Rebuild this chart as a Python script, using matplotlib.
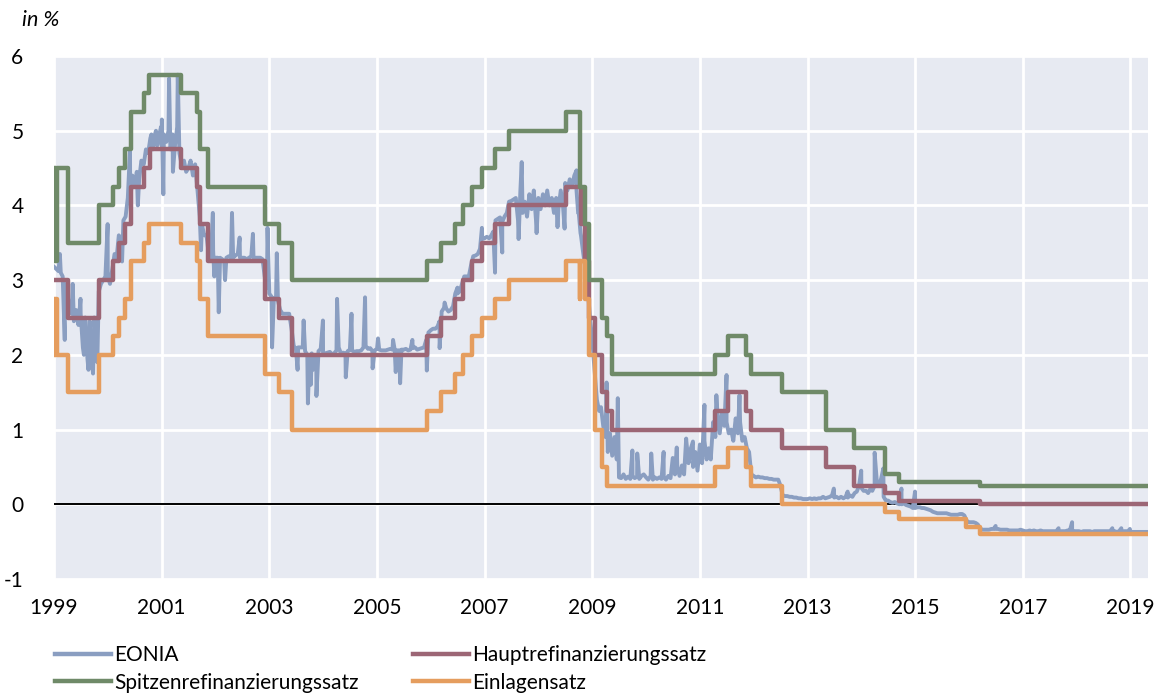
#!/usr/bin/env python3
"""
EONIA and ECB policy rates 1999-2019 (in %).
"""
import pandas as pd
import matplotlib
matplotlib.use('Agg')
import matplotlib.pyplot as plt
import matplotlib.dates as mdates
from matplotlib.lines import Line2D

plt.rcParams['font.family'] = ['Lato', 'DejaVu Sans']

COLORS = {
    'eonia': '#8A9EC1',
    'mro': '#9C6675',
    'mlf': '#6F8A68',
    'dep': '#E59D5E',
    'bg': '#E7EAF2',
}

END_DATE = '2019-04-30'

# Hauptrefinanzierungssatz: change dates and levels
mro_dates = ['1999-01-01', '1999-04-09', '1999-11-05', '2000-02-04', '2000-03-17',
             '2000-04-28', '2000-06-09', '2000-09-06', '2000-10-11', '2001-05-11',
             '2001-08-31', '2001-09-18', '2001-11-09', '2002-12-06', '2003-03-07',
             '2003-06-06', '2005-12-06', '2006-03-08', '2006-06-15', '2006-08-09',
             '2006-10-11', '2006-12-13', '2007-03-14', '2007-06-13', '2008-07-09',
             '2008-10-15', '2008-11-12', '2008-12-10', '2009-01-21', '2009-03-11',
             '2009-04-08', '2009-05-13', '2011-04-13', '2011-07-13', '2011-11-09',
             '2011-12-14', '2012-07-11', '2013-05-08', '2013-11-13', '2014-06-11',
             '2014-09-10', '2016-03-16']
mro_rates = [3.00, 2.50, 3.00, 3.25, 3.50, 3.75, 4.25, 4.50, 4.75, 4.50,
             4.25, 3.75, 3.25, 2.75, 2.50, 2.00, 2.25, 2.50, 2.75, 3.00,
             3.25, 3.50, 3.75, 4.00, 4.25, 3.75, 3.25, 2.50, 2.00, 1.50,
             1.25, 1.00, 1.25, 1.50, 1.25, 1.00, 0.75, 0.50, 0.25, 0.15,
             0.05, 0.00]

# Spitzenrefinanzierungssatz
mlf_dates = ['1999-01-01', '1999-01-04', '1999-01-22', '1999-04-09', '1999-11-05',
             '2000-02-04', '2000-03-17', '2000-04-28', '2000-06-09', '2000-09-01',
             '2000-10-06', '2001-05-11', '2001-08-31', '2001-09-18', '2001-11-09',
             '2002-12-06', '2003-03-07', '2003-06-06', '2005-12-06', '2006-03-08',
             '2006-06-15', '2006-08-09', '2006-10-11', '2006-12-13', '2007-03-14',
             '2007-06-13', '2008-07-09', '2008-10-08', '2008-10-09', '2008-11-12',
             '2008-12-10', '2009-03-11', '2009-04-08', '2009-05-13', '2011-04-13',
             '2011-07-13', '2011-11-09', '2011-12-14', '2012-07-11', '2013-05-08',
             '2013-11-13', '2014-06-11', '2014-09-10', '2016-03-16']
mlf_rates = [4.50, 3.25, 4.50, 3.50, 4.00, 4.25, 4.50, 4.75, 5.25, 5.50,
             5.75, 5.50, 5.25, 4.75, 4.25, 3.75, 3.50, 3.00, 3.25, 3.50,
             3.75, 4.00, 4.25, 4.50, 4.75, 5.00, 5.25, 4.75, 4.25, 3.75,
             3.00, 2.50, 2.25, 1.75, 2.00, 2.25, 2.00, 1.75, 1.50, 1.00,
             0.75, 0.40, 0.30, 0.25]

# Einlagensatz
dep_dates = ['1999-01-01', '1999-01-04', '1999-01-22', '1999-04-09', '1999-11-05',
             '2000-02-04', '2000-03-17', '2000-04-28', '2000-06-09', '2000-09-01',
             '2000-10-06', '2001-05-11', '2001-08-31', '2001-09-18', '2001-11-09',
             '2002-12-06', '2003-03-07', '2003-06-06', '2005-12-06', '2006-03-08',
             '2006-06-15', '2006-08-09', '2006-10-11', '2006-12-13', '2007-03-14',
             '2007-06-13', '2008-07-09', '2008-10-08', '2008-10-09', '2008-11-12',
             '2008-12-10', '2009-01-21', '2009-03-11', '2009-04-08', '2011-04-13',
             '2011-07-13', '2011-11-09', '2011-12-14', '2012-07-11', '2014-06-11',
             '2014-09-10', '2015-12-09', '2016-03-16']
dep_rates = [2.00, 2.75, 2.00, 1.50, 2.00, 2.25, 2.50, 2.75, 3.25, 3.50,
             3.75, 3.50, 3.25, 2.75, 2.25, 1.75, 1.50, 1.00, 1.25, 1.50,
             1.75, 2.00, 2.25, 2.50, 2.75, 3.00, 3.25, 2.75, 3.25, 2.75,
             2.00, 1.00, 0.50, 0.25, 0.50, 0.75, 0.50, 0.25, 0.00, -0.10,
             -0.20, -0.30, -0.40]

# EONIA, two readings per month (1st and 16th), Jan 1999 - Apr 2019
eonia_halfmonth = [
    # 1999
    3.18, 3.15, 3.12, 3.10, 3.05, 2.95, 2.85, 2.60, 2.55, 2.45, 2.60, 2.40,
    2.55, 2.10, 2.50, 1.95, 2.45, 1.90, 2.50, 2.10, 2.85, 2.95, 3.00, 3.05,
    # 2000
    3.05, 2.95, 3.15, 3.35, 3.30, 3.60, 3.55, 3.80, 3.85, 4.10, 4.05, 4.40,
    4.25, 4.45, 4.35, 4.60, 4.55, 4.75, 4.70, 4.90, 4.75, 4.95, 4.80, 4.95,
    # 2001
    4.80, 4.95, 4.85, 5.00, 4.75, 4.95, 4.80, 5.05, 4.70, 4.55, 4.60, 4.45,
    4.50, 4.60, 4.40, 4.55, 4.20, 3.85, 3.75, 3.60, 3.60, 3.35, 3.30, 3.40,
    # 2002
    3.30, 3.30, 3.30, 3.28, 3.25, 3.30, 3.32, 3.30, 3.30, 3.33, 3.35, 3.30,
    3.30, 3.30, 3.28, 3.30, 3.32, 3.30, 3.30, 3.30, 3.30, 3.28, 3.05, 2.90,
    # 2003
    2.82, 2.78, 2.75, 2.78, 2.72, 2.60, 2.55, 2.55, 2.55, 2.55, 2.35, 2.12,
    2.08, 2.10, 2.10, 2.10, 2.05, 2.00, 2.00, 2.02, 1.98, 1.95, 2.05, 2.08,
    # 2004
    2.03, 2.02, 2.03, 2.04, 2.01, 2.02, 2.06, 2.10, 2.02, 2.03, 2.02, 2.05,
    2.07, 2.06, 2.04, 2.05, 2.05, 2.06, 2.10, 2.12, 2.08, 2.09, 2.05, 2.06,
    # 2005
    2.08, 2.07, 2.06, 2.06, 2.06, 2.07, 2.08, 2.07, 2.07, 2.06, 2.06, 2.07,
    2.07, 2.08, 2.06, 2.07, 2.09, 2.10, 2.07, 2.08, 2.09, 2.10, 2.20, 2.30,
    # 2006
    2.33, 2.35, 2.35, 2.38, 2.45, 2.58, 2.63, 2.62, 2.58, 2.60, 2.65, 2.82,
    2.82, 2.85, 2.95, 3.05, 3.05, 3.05, 3.20, 3.32, 3.33, 3.35, 3.42, 3.55,
    # 2007
    3.56, 3.58, 3.56, 3.60, 3.65, 3.80, 3.82, 3.84, 3.78, 3.85, 3.90, 4.05,
    4.06, 4.08, 4.10, 3.80, 4.20, 3.90, 4.05, 3.85, 4.15, 3.95, 4.20, 3.80,
    # 2008
    4.10, 3.95, 4.15, 4.00, 4.20, 4.00, 4.10, 3.90, 4.10, 3.95, 4.20, 4.00,
    4.30, 4.20, 4.35, 4.25, 4.40, 4.20, 3.90, 3.60, 3.35, 3.15, 2.90, 2.50,
    # 2009
    2.20, 1.80, 1.40, 1.25, 1.30, 1.05, 0.90, 0.70, 0.95, 0.65, 0.90, 0.60,
    0.36, 0.35, 0.40, 0.34, 0.37, 0.34, 0.38, 0.35, 0.37, 0.34, 0.38, 0.40,
    # 2010
    0.36, 0.33, 0.38, 0.33, 0.36, 0.34, 0.36, 0.34, 0.37, 0.33, 0.38, 0.35,
    0.62, 0.40, 0.50, 0.38, 0.52, 0.40, 0.85, 0.55, 0.75, 0.50, 0.70, 0.45,
    # 2011
    0.80, 0.55, 0.85, 0.60, 0.75, 0.60, 1.10, 0.90, 1.20, 0.95, 1.25, 1.05,
    1.10, 0.95, 1.00, 0.85, 1.15, 0.95, 1.10, 0.85, 0.90, 0.75, 0.70, 0.40,
    # 2012
    0.38, 0.36, 0.37, 0.36, 0.36, 0.35, 0.35, 0.34, 0.34, 0.33, 0.33, 0.33,
    0.25, 0.12, 0.11, 0.11, 0.10, 0.10, 0.09, 0.09, 0.08, 0.08, 0.07, 0.07,
    # 2013
    0.07, 0.08, 0.07, 0.08, 0.07, 0.08, 0.08, 0.10, 0.08, 0.09, 0.10, 0.12,
    0.09, 0.10, 0.08, 0.10, 0.08, 0.10, 0.09, 0.12, 0.10, 0.15, 0.17, 0.25,
    # 2014
    0.22, 0.18, 0.18, 0.15, 0.20, 0.18, 0.25, 0.30, 0.25, 0.35, 0.10, 0.05,
    0.05, 0.03, 0.02, 0.03, 0.01, 0.00, 0.00, 0.01, -0.01, -0.02, -0.03, -0.05,
    # 2015
    -0.05, -0.04, -0.04, -0.05, -0.05, -0.06, -0.07, -0.08, -0.10, -0.11, -0.12, -0.12,
    -0.12, -0.12, -0.12, -0.13, -0.14, -0.14, -0.14, -0.14, -0.13, -0.13, -0.15, -0.22,
    # 2016
    -0.24, -0.24, -0.24, -0.25, -0.27, -0.32, -0.34, -0.34, -0.34, -0.34, -0.33, -0.33,
    -0.33, -0.33, -0.34, -0.34, -0.34, -0.34, -0.35, -0.35, -0.35, -0.35, -0.35, -0.34,
    # 2017
    -0.35, -0.36, -0.36, -0.35, -0.36, -0.35, -0.36, -0.36, -0.35, -0.36, -0.36, -0.36,
    -0.36, -0.36, -0.36, -0.36, -0.36, -0.36, -0.36, -0.36, -0.35, -0.35, -0.35, -0.36,
    # 2018
    -0.36, -0.36, -0.37, -0.36, -0.36, -0.36, -0.36, -0.37, -0.36, -0.36, -0.36, -0.36,
    -0.36, -0.36, -0.36, -0.36, -0.36, -0.36, -0.37, -0.36, -0.36, -0.36, -0.36, -0.36,
    # 2019 (Jan - Apr)
    -0.37, -0.37, -0.37, -0.37, -0.37, -0.37, -0.37, -0.37,
]

# single-day EONIA spikes and dips
eonia_spike_dates = [
    '1999-02-10', '1999-03-15', '1999-05-08', '1999-06-30', '1999-07-23',
    '1999-08-23', '1999-09-07', '1999-09-23', '1999-10-22', '1999-12-31',
    '2000-04-07', '2000-05-31', '2000-07-23', '2000-10-23', '2000-11-23',
    '2000-12-27', '2001-01-02', '2001-01-12', '2001-02-20', '2001-03-18',
    '2001-04-20', '2001-09-25', '2001-12-14', '2001-12-24', '2002-01-23',
    '2002-03-07', '2002-04-23', '2002-06-14', '2002-09-12', '2002-12-20',
    '2003-01-20', '2003-02-21', '2003-07-12', '2003-08-22', '2003-09-20',
    '2003-10-10', '2003-10-25', '2003-11-17', '2003-12-31', '2004-04-05',
    '2004-06-03', '2004-07-12', '2004-10-12', '2004-12-02', '2005-01-08',
    '2005-04-20', '2005-05-08', '2005-06-07', '2005-08-29', '2005-12-05',
    '2006-03-02', '2006-04-05', '2006-07-01', '2006-12-14', '2007-03-13',
    '2007-05-01', '2007-08-20', '2007-09-10', '2007-12-20', '2008-05-10',
    '2008-06-27', '2008-09-16', '2008-09-27', '2008-10-13', '2009-04-08',
    '2009-06-23', '2009-09-30', '2009-11-02', '2010-02-05', '2010-04-30',
    '2010-07-28', '2010-09-30', '2010-11-15', '2011-02-01', '2011-04-23',
    '2011-07-01', '2011-09-27', '2013-06-28', '2013-09-30', '2013-12-31',
    '2014-04-01', '2014-05-30', '2014-09-30', '2014-12-31', '2016-06-30',
    '2017-08-31', '2017-12-01', '2018-08-31', '2018-10-31', '2018-12-28',
]
eonia_spike_values = [
    3.35, 2.20, 2.95, 2.75, 2.00,
    1.80, 2.00, 1.75, 1.90, 3.75,
    3.25, 4.75, 4.00, 4.95, 5.00,
    5.05, 5.15, 4.15, 5.70, 4.45,
    5.75, 3.40, 3.90, 3.05, 2.57,
    3.00, 3.90, 3.57, 3.62, 3.70,
    2.10, 3.36, 1.80, 2.46, 1.35,
    1.60, 1.80, 1.45, 2.46, 2.75,
    1.70, 2.55, 2.77, 1.82, 2.22,
    2.20, 1.77, 1.62, 2.20, 1.79,
    2.09, 2.70, 2.90, 3.70, 3.10,
    3.37, 3.55, 4.58, 3.63, 3.71,
    3.69, 4.47, 3.90, 3.63, 1.63,
    1.42, 0.72, 0.68, 0.68, 0.70,
    0.76, 0.88, 0.84, 1.33, 1.46,
    1.73, 1.46, 0.21, 0.17, 0.45,
    0.69, 0.48, 0.21, 0.17, -0.29,
    -0.32, -0.24, -0.32, -0.32, -0.33,
]


def step_series(dates, rates):
    """Policy rate as step series, extended to the end date."""
    idx = pd.to_datetime(list(dates) + [END_DATE])
    return pd.Series(list(rates) + [rates[-1]], index=idx)


def eonia_series():
    months = pd.date_range('1999-01-01', '2019-04-01', freq='MS')
    idx = []
    for m in months:
        idx += [m, m + pd.Timedelta(days=15)]
    base = pd.Series(eonia_halfmonth, index=pd.DatetimeIndex(idx))
    spikes = pd.Series(eonia_spike_values, index=pd.to_datetime(eonia_spike_dates))
    end = pd.Series([eonia_halfmonth[-1]], index=pd.to_datetime([END_DATE]))
    return pd.concat([base, spikes, end]).sort_index()


fig = plt.figure(figsize=(11.61, 6.94), dpi=100)
ax = fig.add_axes([0.0465, 0.1657, 0.9423, 0.7536])
ax.set_facecolor(COLORS['bg'])

eonia = eonia_series()
mro = step_series(mro_dates, mro_rates)
mlf = step_series(mlf_dates, mlf_rates)
dep = step_series(dep_dates, dep_rates)

ax.axhline(0, color='black', linewidth=1.4, zorder=1.5)
ax.plot(eonia.index, eonia.values, color=COLORS['eonia'], linewidth=2.8,
        zorder=2)
ax.plot(mro.index, mro.values, color=COLORS['mro'], linewidth=3.2,
        drawstyle='steps-post', zorder=3)
ax.plot(mlf.index, mlf.values, color=COLORS['mlf'], linewidth=3.2,
        drawstyle='steps-post', zorder=3)
ax.plot(dep.index, dep.values, color=COLORS['dep'], linewidth=3.2,
        drawstyle='steps-post', zorder=3)

# axes
ax.set_xlim(pd.Timestamp('1999-01-01'), pd.Timestamp(END_DATE))
ax.set_ylim(-1, 6)
year_ticks = [pd.Timestamp(f'{y}-01-01') for y in range(1999, 2020, 2)]
ax.set_xticks(year_ticks)
ax.xaxis.set_major_formatter(mdates.DateFormatter('%Y'))
ax.set_yticks(range(-1, 7))
ax.set_yticklabels([str(v) for v in range(-1, 7)])
ax.tick_params(axis='both', length=0, labelsize=15, colors='black')
ax.tick_params(axis='y', pad=22)
ax.tick_params(axis='x', pad=14)
ax.grid(True, color='white', linewidth=2.0, zorder=0)
ax.set_axisbelow(True)
for s in ax.spines.values():
    s.set_visible(False)

fig.text(0.019, 0.971, 'in %', fontsize=15.5, style='italic', va='center', ha='left')

handles = [
    Line2D([], [], color=COLORS['eonia'], linewidth=3.2),
    Line2D([], [], color=COLORS['mlf'], linewidth=3.2),
    Line2D([], [], color=COLORS['mro'], linewidth=3.2),
    Line2D([], [], color=COLORS['dep'], linewidth=3.2),
]
labels = ['EONIA', 'Spitzenrefinanzierungssatz', 'Hauptrefinanzierungssatz', 'Einlagensatz']
fig.legend(handles, labels, loc='upper left', bbox_to_anchor=(0.0474, 0.070),
           ncol=2, frameon=False, fontsize=15, handlelength=2.7,
           handletextpad=0.15, columnspacing=2.6, labelspacing=0.35,
           borderpad=0, borderaxespad=0)

fig.savefig('out.png', dpi=100)
print('saved out.png')
